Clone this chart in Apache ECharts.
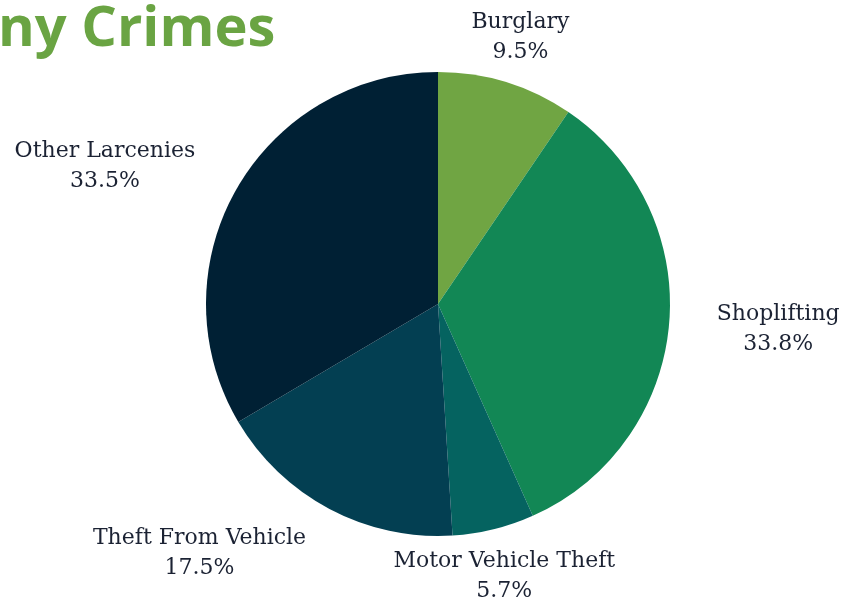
<!DOCTYPE html>
<html>
<head>
<meta charset="utf-8">
<script src="https://cdn.jsdelivr.net/npm/echarts@6/dist/echarts.min.js"></script>
<style>
html,body{margin:0;padding:0;background:#fff;}
#chart{width:862px;height:601px;}
</style>
</head>
<body>
<div id="chart"></div>
<script>
// ---- data ----
var categories = ['Burglary', 'Shoplifting', 'Motor Vehicle Theft', 'Theft From Vehicle', 'Other Larcenies'];
var shares = [9.5, 33.8, 5.7, 17.5, 33.5];
var titleText = 'ny Crimes';

// ---- style ----
var colors = ['#70a543', '#128755', '#056360', '#033f52', '#002034'];
var CX = 438, CY = 304, R = 232, LABEL_GAP = 30;
var labelNudge = [[-9, 12], [18, 0], [-23, -11], [-66, -9], [-27, 7]];

var total = shares.reduce(function (a, b) { return a + b; }, 0);
function midAngle(i) {
  var before = 0;
  for (var k = 0; k < i; k++) before += shares[k];
  return (before + shares[i] / 2) / total * 2 * Math.PI;
}

var chart = echarts.init(document.getElementById('chart'));
chart.setOption({
  backgroundColor: '#ffffff',
  animation: false,
  title: {
    text: titleText,
    left: -2,
    top: 2,
    padding: 0,
    textStyle: { fontFamily: 'Open Sans', fontWeight: 700, fontSize: 56, color: '#6aa443' }
  },
  series: [{
    type: 'pie',
    center: [CX, CY],
    radius: R,
    startAngle: 90,
    clockwise: true,
    avoidLabelOverlap: false,
    data: categories.map(function (c, i) {
      return { name: c, value: shares[i], itemStyle: { color: colors[i] } };
    }),
    label: {
      show: true,
      position: 'outside',
      formatter: function (p) { return p.name + '\n' + p.value.toFixed(1) + '%'; },
      fontFamily: 'DejaVu Serif',
      fontSize: 22,
      lineHeight: 30,
      color: '#1b2233',
      align: 'center'
    },
    labelLine: { show: false },
    labelLayout: function (params) {
      var i = params.dataIndex;
      var a = midAngle(i);
      var vx = Math.sin(a), vy = -Math.cos(a);
      var w = params.labelRect.width, h = params.labelRect.height;
      var x = CX + vx * (R + LABEL_GAP) + vx * w / 2 + labelNudge[i][0];
      var y = CY + vy * (R + LABEL_GAP) + vy * h / 2 + labelNudge[i][1];
      return { x: x, y: y, align: 'center', verticalAlign: 'middle' };
    }
  }]
});
</script>
</body>
</html>
